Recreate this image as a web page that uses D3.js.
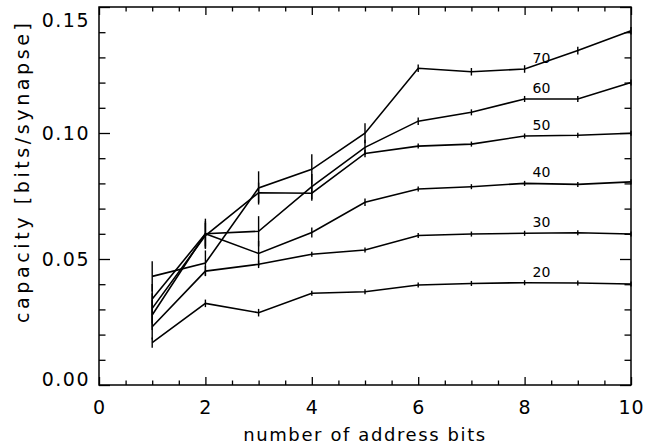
<!DOCTYPE html>
<html>
<head>
<meta charset="utf-8">
<script src="https://cdn.jsdelivr.net/npm/d3@7"></script>
<style>
  html, body { margin: 0; padding: 0; background: #fff; }
  svg { display: block; }
  text { font-family: "DejaVu Sans", sans-serif; fill: #000; }
</style>
</head>
<body>
<svg id="chart" width="645" height="445"></svg>
<script>
// ---- data ----
const addressBits = [1, 2, 3, 4, 5, 6, 7, 8, 9, 10];
const seriesNames = ["20", "30", "40", "50", "60", "70"];
const cap20 = [0.0168, 0.0324, 0.0287, 0.0364, 0.0370, 0.0397, 0.0403, 0.0406, 0.0405, 0.0401];
const cap30 = [0.0231, 0.0452, 0.0479, 0.0519, 0.0536, 0.0593, 0.0599, 0.0602, 0.0604, 0.0599];
const cap40 = [0.0278, 0.0600, 0.0522, 0.0605, 0.0725, 0.0778, 0.0787, 0.0800, 0.0796, 0.0806];
const cap50 = [0.0304, 0.0593, 0.0763, 0.0761, 0.0919, 0.0948, 0.0956, 0.0988, 0.0991, 0.0999];
const cap60 = [0.0341, 0.0600, 0.0610, 0.0787, 0.0943, 0.1047, 0.1082, 0.1135, 0.1135, 0.1200];
const cap70 = [0.0431, 0.0484, 0.0782, 0.0856, 0.0999, 0.1257, 0.1243, 0.1254, 0.1327, 0.1406];
const err20 = [0.0020, 0.0015, 0.0015, 0.0010, 0.0010, 0.0010, 0.0010, 0.0010, 0.0010, 0.0010];
const err30 = [0.0050, 0.0020, 0.0015, 0.0010, 0.0010, 0.0010, 0.0010, 0.0010, 0.0010, 0.0010];
const err40 = [0.0060, 0.0050, 0.0050, 0.0020, 0.0015, 0.0010, 0.0010, 0.0010, 0.0010, 0.0010];
const err50 = [0.0060, 0.0050, 0.0040, 0.0030, 0.0015, 0.0010, 0.0010, 0.0010, 0.0010, 0.0010];
const err60 = [0.0060, 0.0060, 0.0060, 0.0050, 0.0030, 0.0015, 0.0012, 0.0012, 0.0012, 0.0012];
const err70 = [0.0060, 0.0050, 0.0066, 0.0060, 0.0040, 0.0015, 0.0015, 0.0015, 0.0015, 0.0015];
const xTicks = [0, 2, 4, 6, 8, 10];
const yTicks = [0.00, 0.05, 0.10, 0.15];
const xLabel = "number of address bits";
const yLabel = "capacity [bits/synapse]";
const labelAt = 8; // series labels sit above the point at this x

const capValues = [cap20, cap30, cap40, cap50, cap60, cap70];
const errValues = [err20, err30, err40, err50, err60, err70];
const series = seriesNames.map((name, i) => ({
  name,
  points: addressBits.map((x, j) => ({ x, y: capValues[i][j], e: errValues[i][j] }))
}));

// ---- layout ----
const W = 645, H = 445;
const margin = { left: 99, right: 14, top: 7, bottom: 60 };
const iw = W - margin.left - margin.right;
const ih = H - margin.top - margin.bottom;

const svg = d3.select("#chart");
const g = svg.append("g").attr("transform", `translate(${margin.left},${margin.top})`);

const x = d3.scaleLinear().domain([0, 10]).range([0, iw]);
const y = d3.scaleLinear().domain([0, 0.15]).range([ih, 0]);

// ticks (inward, all four sides)
const xMinor = d3.range(0, 10.001, 0.5).filter(v => Math.abs(v / 2 - Math.round(v / 2)) > 1e-6);
const yMinor = d3.range(0, 0.1501, 0.01).filter(v => Math.abs(v / 0.05 - Math.round(v / 0.05)) > 1e-6);

function tickLines(axisGen, sel) {
  sel.call(axisGen);
  sel.select(".domain").remove();
  sel.selectAll("line").attr("stroke", "#000").attr("stroke-width", 1.3);
}

// bottom
const bMaj = g.append("g").attr("transform", `translate(0,${ih})`);
bMaj.call(d3.axisBottom(x).tickValues(xTicks).tickSize(-8).tickPadding(16).tickFormat(d3.format("d")));
bMaj.select(".domain").remove();
bMaj.selectAll("line").attr("stroke", "#000").attr("stroke-width", 1.3);
bMaj.selectAll("text").attr("font-size", 19).attr("letter-spacing", 1)
  .attr("font-family", "DejaVu Sans").attr("fill", "#000");
tickLines(d3.axisBottom(x).tickValues(xMinor).tickSize(-4.5).tickFormat(""),
  g.append("g").attr("transform", `translate(0,${ih})`));
// top
tickLines(d3.axisTop(x).tickValues(xTicks).tickSize(-8).tickFormat(""), g.append("g"));
tickLines(d3.axisTop(x).tickValues(xMinor).tickSize(-4.5).tickFormat(""), g.append("g"));
// left
const lMaj = g.append("g");
lMaj.call(d3.axisLeft(y).tickValues(yTicks).tickSize(-11).tickPadding(9).tickFormat(d3.format(".2f")));
lMaj.select(".domain").remove();
lMaj.selectAll("line").attr("stroke", "#000").attr("stroke-width", 1.3);
lMaj.selectAll("text").attr("font-size", 19).attr("letter-spacing", 1.5)
  .attr("font-family", "DejaVu Sans").attr("fill", "#000")
  .attr("dy", d => d === 0.15 ? "1.0em" : (d === 0 ? "0.05em" : "0.32em"));
tickLines(d3.axisLeft(y).tickValues(yMinor).tickSize(-6.5).tickFormat(""), g.append("g"));
// right
tickLines(d3.axisRight(y).tickValues(yTicks).tickSize(-11).tickFormat(""),
  g.append("g").attr("transform", `translate(${iw},0)`));
tickLines(d3.axisRight(y).tickValues(yMinor).tickSize(-6.5).tickFormat(""),
  g.append("g").attr("transform", `translate(${iw},0)`));

// frame
g.append("rect").attr("x", 0).attr("y", 0).attr("width", iw).attr("height", ih)
  .attr("fill", "none").attr("stroke", "#000").attr("stroke-width", 1.5);

// series lines
const line = d3.line().x(d => x(d.x)).y(d => y(d.y));
const sg = g.append("g");
series.forEach(s => {
  sg.append("path").datum(s.points).attr("d", line)
    .attr("fill", "none").attr("stroke", "#000").attr("stroke-width", 1.6);
  sg.selectAll(null).data(s.points).enter().append("line")
    .attr("x1", d => x(d.x)).attr("x2", d => x(d.x))
    .attr("y1", d => y(d.y - d.e)).attr("y2", d => y(d.y + d.e))
    .attr("stroke", "#000").attr("stroke-width", 1.4);
  const p = s.points.find(d => d.x === labelAt);
  sg.append("text").attr("x", x(p.x) + 8).attr("y", y(p.y) - 6)
    .attr("font-size", 14).text(s.name);
});

// axis titles
svg.append("text").attr("x", margin.left + iw / 2).attr("y", H - 4)
  .attr("text-anchor", "middle").attr("font-size", 18).attr("letter-spacing", 1.6).text(xLabel);
svg.append("text")
  .attr("transform", `translate(29,173) rotate(-90)`)
  .attr("text-anchor", "middle").attr("font-size", 19)
  .attr("textLength", 300).attr("lengthAdjust", "spacing").text(yLabel);
</script>
</body>
</html>
